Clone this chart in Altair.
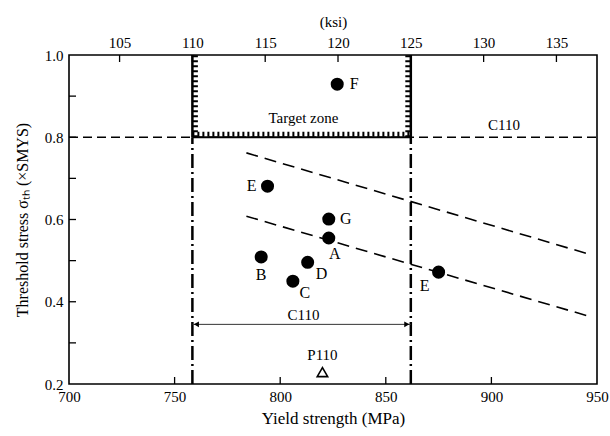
import altair as alt
import pandas as pd

FONT = "Liberation Serif"
MPA_PER_KSI = 6.894757

# ---- data ----
pt_labels = ["F", "E", "G", "A", "B", "D", "C", "E"]
pt_x = [827, 794, 823, 823, 791, 813, 806, 875]
pt_y = [0.929, 0.681, 0.601, 0.555, 0.509, 0.496, 0.450, 0.472]
label_dx = [17, -16, 17, 6, 0, 14, 12, -14]
label_dy = [0, 0, 0, 16, 18, 12, 12, 14]

upper_line_x = [784, 946]
upper_line_y = [0.762, 0.516]
lower_line_x = [784, 946]
lower_line_y = [0.608, 0.365]

zone_min_ksi = 110
zone_max_ksi = 125
c110_level = 0.8
c110_range_y = 0.345
p110_x = [820]
p110_y = [0.229]

x_ticks = [700, 750, 800, 850, 900, 950]
x_minor = [750, 800, 850, 900]
y_ticks = [0.2, 0.4, 0.6, 0.8, 1.0]
y_minor = [0.3, 0.4, 0.5, 0.6, 0.7, 0.8, 0.9]
ksi_ticks = [105, 110, 115, 120, 125, 130, 135]

X_MIN, X_MAX = 700, 950
Y_MIN, Y_MAX = 0.2, 1.0
W, H = 528, 329

zone_lo = zone_min_ksi * MPA_PER_KSI
zone_hi = zone_max_ksi * MPA_PER_KSI

xscale = alt.Scale(domain=[X_MIN, X_MAX], nice=False, zero=False)
yscale = alt.Scale(domain=[Y_MIN, Y_MAX], nice=False, zero=False)


def X(field="x", axis=None):
    return alt.X(f"{field}:Q", scale=xscale, axis=axis)


def Y(field="y", axis=None):
    return alt.Y(f"{field}:Q", scale=yscale, axis=axis)


# axes layer (bottom + left)
axis_df = pd.DataFrame({"x": [X_MIN], "y": [Y_MIN]})
axes = alt.Chart(axis_df).mark_point(opacity=0).encode(
    x=X(axis=alt.Axis(values=x_ticks, tickSize=0, domain=False, grid=False, labelFlush=False,
                      labelPadding=5, labelFont=FONT, labelFontSize=15, labelColor="black",
                      title="Yield strength (MPa)", titleFont=FONT, titleFontSize=17,
                      titleFontWeight="normal", titleColor="black", titlePadding=6)),
    y=Y(axis=alt.Axis(values=y_ticks, format=".1f", tickSize=0, domain=False, grid=False,
                      labelFlush=False,
                      labelPadding=6, labelFont=FONT, labelFontSize=15, labelColor="black",
                      title="Threshold stress  σₜₕ   (×SMYS)", titleFont=FONT, titleFontSize=16,
                      titleFontWeight="normal", titleColor="black", titlePadding=14)),
)

# inward ticks
xt = alt.Chart(pd.DataFrame({"x": x_minor})).mark_rule(color="black", strokeWidth=1.3).encode(
    x=X(), y=alt.value(H), y2=alt.value(H - 7))
yt = alt.Chart(pd.DataFrame({"y": y_minor})).mark_rule(color="black", strokeWidth=1.3).encode(
    y=Y(), x=alt.value(0), x2=alt.value(7))

# C110 horizontal dashed line
c110_df = pd.DataFrame({"x": [X_MIN], "x2": [X_MAX], "y": [c110_level]})
c110_line = alt.Chart(c110_df).mark_rule(color="black", strokeWidth=1.5, strokeDash=[9, 5]).encode(
    x=X(), x2="x2:Q", y=Y())

# sloped dashed lines
up_df = pd.DataFrame({"x": upper_line_x, "y": upper_line_y})
lo_df = pd.DataFrame({"x": lower_line_x, "y": lower_line_y})
up_line = alt.Chart(up_df).mark_line(color="black", strokeWidth=1.6, strokeDash=[12, 7]).encode(x=X(), y=Y())
lo_line = alt.Chart(lo_df).mark_line(color="black", strokeWidth=1.6, strokeDash=[12, 7]).encode(x=X(), y=Y())

# vertical dash-dot lines below the target zone
v_df = pd.DataFrame({"x": [zone_lo, zone_hi], "y": [Y_MIN, Y_MIN], "y2": [c110_level, c110_level]})
v_lines = alt.Chart(v_df).mark_rule(color="black", strokeWidth=2.5, strokeDash=[14, 4, 2, 4]).encode(
    x=X(), y=Y(), y2="y2:Q")

# target zone border (solid + hatch)
zs_df = pd.DataFrame({"x": [zone_lo, zone_hi], "y": [c110_level, c110_level], "y2": [Y_MAX, Y_MAX]})
z_sides = alt.Chart(zs_df).mark_rule(color="black", strokeWidth=2.5).encode(x=X(), y=Y(), y2="y2:Q")
zl_df = pd.DataFrame({"x": [zone_lo], "y": [c110_level], "y2": [Y_MAX]})
zr_df = pd.DataFrame({"x": [zone_hi], "y": [c110_level], "y2": [Y_MAX]})
hatch_l = alt.Chart(zl_df).mark_rule(color="black", strokeWidth=5, strokeDash=[2, 3], xOffset=3).encode(
    x=X(), y=Y(), y2="y2:Q")
hatch_r = alt.Chart(zr_df).mark_rule(color="black", strokeWidth=5, strokeDash=[2, 3], xOffset=-3).encode(
    x=X(), y=Y(), y2="y2:Q")
zb_df = pd.DataFrame({"x": [zone_lo], "x2": [zone_hi], "y": [c110_level]})
z_bottom = alt.Chart(zb_df).mark_rule(color="black", strokeWidth=2).encode(x=X(), x2="x2:Q", y=Y())
hatch_b = alt.Chart(zb_df).mark_rule(color="black", strokeWidth=5, strokeDash=[2, 3], yOffset=-3).encode(
    x=X(), x2="x2:Q", y=Y())

# C110 range arrow
cr_df = pd.DataFrame({"x": [zone_lo], "x2": [zone_hi], "y": [c110_range_y]})
c_range = alt.Chart(cr_df).mark_rule(color="#333333", strokeWidth=1).encode(x=X(), x2="x2:Q", y=Y())
al_df = pd.DataFrame({"x": [zone_lo], "y": [c110_range_y]})
ar_df = pd.DataFrame({"x": [zone_hi], "y": [c110_range_y]})
arrow_l = alt.Chart(al_df).mark_point(shape="triangle-left", filled=True, color="black", size=35,
                                      opacity=1, xOffset=4).encode(x=X(), y=Y())
arrow_r = alt.Chart(ar_df).mark_point(shape="triangle-right", filled=True, color="black", size=35,
                                      opacity=1, xOffset=-4).encode(x=X(), y=Y())

# P110 triangle
p_df = pd.DataFrame({"x": p110_x, "y": p110_y})
p_tri = alt.Chart(p_df).mark_point(shape="triangle-up", filled=False, color="black", size=110,
                                   strokeWidth=1.6, opacity=1).encode(x=X(), y=Y())

# data points
pts_df = pd.DataFrame({"x": pt_x, "y": pt_y, "label": pt_labels})
pts = alt.Chart(pts_df).mark_circle(color="black", size=170, opacity=1).encode(x=X(), y=Y())

layers = [axes, xt, yt, c110_line, up_line, lo_line, v_lines, z_sides, hatch_l, hatch_r,
          z_bottom, hatch_b, c_range, arrow_l, arrow_r, p_tri, pts]

for i in range(len(pt_labels)):
    d = pd.DataFrame({"x": [pt_x[i]], "y": [pt_y[i]], "label": [pt_labels[i]]})
    layers.append(alt.Chart(d).mark_text(font=FONT, fontSize=16, color="black",
                                         dx=label_dx[i], dy=label_dy[i]).encode(
        x=X(), y=Y(), text="label:N"))

# annotation texts
ann_text = ["Target zone", "C110", "C110", "P110"]
ann_x = [811, 906, 811, 820]
ann_y = [0.847, 0.829, 0.367, 0.270]
ann_df = pd.DataFrame({"x": ann_x, "y": ann_y, "t": ann_text})
ann = alt.Chart(ann_df).mark_text(font=FONT, fontSize=15, color="black").encode(x=X(), y=Y(), text="t:N")
layers.append(ann)

# top ksi axis with inward ticks
ksi_df = pd.DataFrame({"k": ksi_ticks})
top = alt.Chart(ksi_df).mark_rule(color="black", strokeWidth=1.3).encode(
    x=alt.X("k:Q", scale=alt.Scale(domain=[X_MIN / MPA_PER_KSI, X_MAX / MPA_PER_KSI], nice=False, zero=False),
            axis=alt.Axis(orient="top", values=ksi_ticks, tickSize=0, domain=False, grid=False,
                          labelPadding=5, labelFont=FONT, labelFontSize=15, labelColor="black",
                          title="(ksi)", titleFont=FONT, titleFontSize=15, titleFontWeight="normal",
                          titleColor="black", titlePadding=6)),
    y=alt.value(0), y2=alt.value(7))
layers.append(top)

chart = alt.layer(*layers).resolve_scale(x="independent", y="independent").properties(
    width=W, height=H,
    autosize=alt.AutoSizeParams(type="none"),
    padding={"left": 69, "top": 55, "right": 13, "bottom": 52},
    background="white",
).configure_view(stroke="black", strokeWidth=1.6)

chart.save("out.html", embed_options={"renderer": "svg", "actions": False})
